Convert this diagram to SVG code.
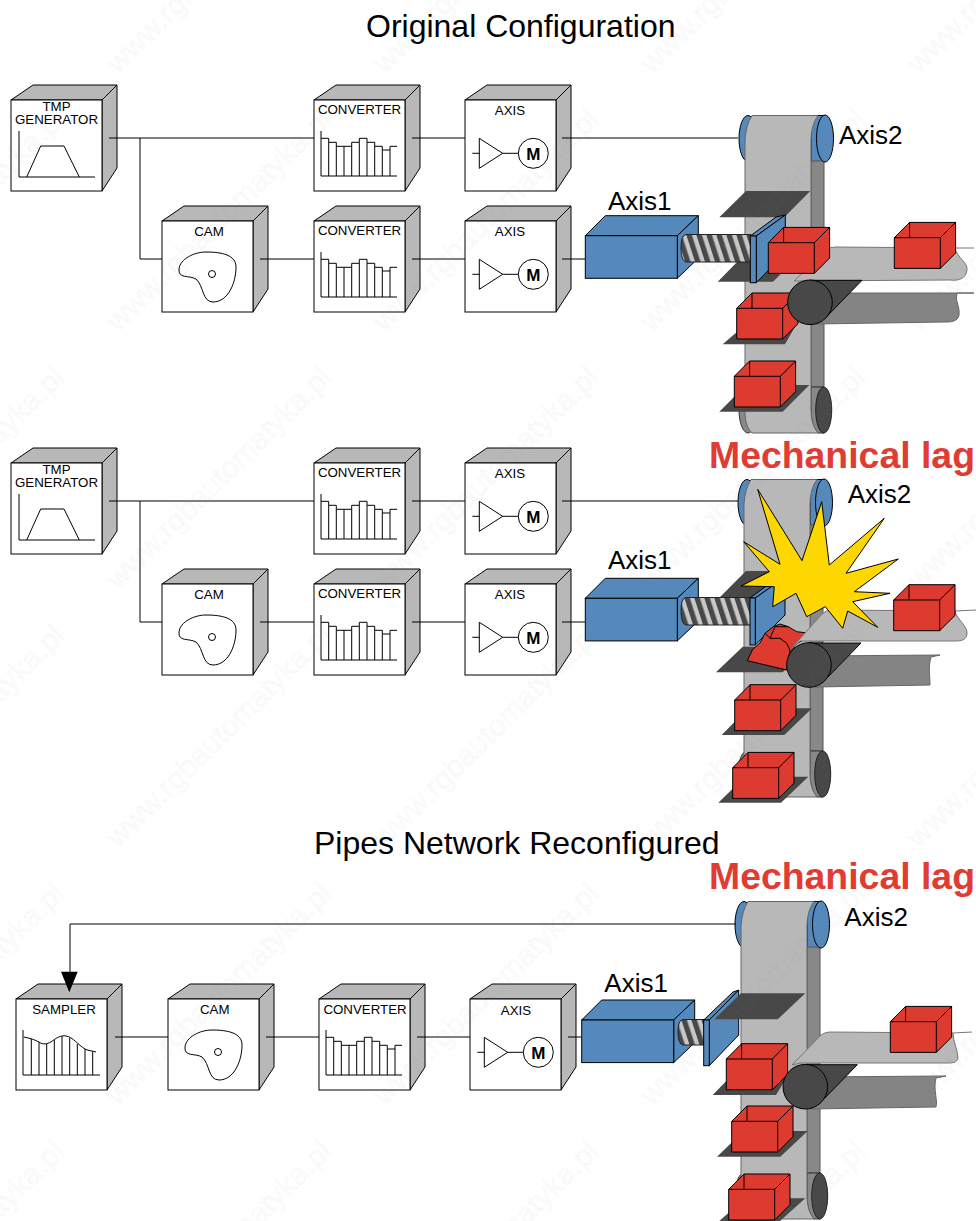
<svg xmlns="http://www.w3.org/2000/svg" width="976" height="1221" viewBox="0 0 976 1221">
<style>
text{font-family:"Liberation Sans",Arial,sans-serif;fill:#000}
.lb{font-size:13.3px;text-anchor:middle}
.ax{font-size:26px}
.ti{font-size:32px}
.lag{font-size:37.4px;font-weight:bold;fill:#e03c33}
.wm{font-size:30px;fill:#8c8c8c;fill-opacity:.04;stroke:#808080;stroke-opacity:.09;stroke-width:.6}
.m{font-size:17px;font-weight:bold;text-anchor:middle}
.ln{fill:none;stroke:#000;stroke-width:1}
.gr{fill:#b8b8b8;stroke:#000;stroke-width:1}
.wh{fill:#fff;stroke:#000;stroke-width:1}
.bl{fill:#5588bb;stroke:#000;stroke-width:1}
.tr{fill:#484848}
.sf{fill:#b8b8b8;stroke:#777;stroke-width:1}
.bd{fill:#848484;stroke:#666;stroke-width:1}
.tl{fill:none;stroke:#777;stroke-width:1}
.sc{fill:url(#thread);stroke:#222;stroke-width:1}
</style>
<defs>
<g id="box">
<polygon class="gr" points="0,0 22,-15 106,-15 91,0"/>
<polygon class="gr" points="91,0 106,-15 106,68 91,91"/>
<rect class="wh" x="0" y="0" width="91" height="91"/>
</g>
<g id="trap"><path class="ln" d="M8,31V77H84M15.7,77L29.7,46H53L68.3,77"/></g>
<g id="conv"><path class="ln" d="M7,31V76H83M7,38.3H14.7V42.3H22.3V46.3H37.7V42.3H45.3V38.3H53V42.3H60.7V46.3H68.3V50H76V46.3H83M14.7,42.3V76M22.3,46.3V76M30,46.3V76M37.7,46.3V76M45.3,42.3V76M53,42.3V76M60.7,46.3V76M68.3,50V76M76,50V76"/></g>
<g id="amp"><path class="ln" d="M7.3,53.3H14.3M14.3,38.3L37.7,53.3L14.3,68.3ZM37.7,53.3H53.3"/><circle class="wh" cx="68.3" cy="53.3" r="15"/><text class="m" x="68.3" y="59.6">M</text></g>
<g id="camsh"><path class="ln" d="M17,48C18,38 32,31 44,31C60,31 74,34 74,46C74,62 66,81 51,81C40,81 42,65 34,58C27,54 16,58 17,48Z"/><circle class="wh" cx="50" cy="53" r="3.5"/></g>
<g id="samp"><path class="ln" d="M7,31V76H84M7.7,38C14,39 19,41 23,43C27,46 31,45 35,43C40,39 45,36 50,37C57,38 62,46 69,50C73,52 77,52 80,53M15.3,40V76M23,43V76M30.7,45V76M38.3,41V76M46,37V76M53.7,39V76M61.3,45V76M69,50V76M76.7,52V76"/></g>
<g id="red">
<polygon fill="#dd3a30" stroke="#000" points="0,0 15.3,-15.3 61.3,-15.3 61.3,15.4 46,30.7 0,30.7"/>
<path class="ln" d="M15.3,-15.3V0M0,0H46V30.7M46,0L61.3,-15.3"/>
</g>
<g id="motor">
<polygon class="bl" points="0,0 20,-20 113,-20 92,0"/>
<polygon class="bl" points="92,0 113,-20 113,22.6 92,42.6"/>
<rect class="bl" x="0" y="0" width="92" height="42.6"/>
</g>
<pattern id="thread" width="10" height="28" patternUnits="userSpaceOnUse" patternTransform="skewX(18)"><rect width="10" height="28" fill="#c8c8c8"/><rect width="5.5" height="28" fill="#484848"/></pattern>
<g id="belt">
<ellipse cx="748" cy="138.5" rx="9" ry="23" class="bl"/>
<ellipse cx="748" cy="410" rx="9" ry="23" fill="#888" stroke="#333"/>
<rect x="811" y="115.5" width="14" height="46" class="bl"/>
<rect x="811" y="161" width="13" height="226" fill="#888" stroke="#555"/>
<path d="M811,387H824V433H818Q811,425 811,410Z" fill="#888" stroke="#333"/>
<path d="M745,162V140Q746,125 752,115.5H818Q811,125 811,140V410Q811,425 818,433H752Q746,428 745,415Z" fill="#b8b8b8" stroke="#666"/>
<ellipse cx="825" cy="138.5" rx="8.5" ry="23.5" class="bl"/>
<ellipse cx="823.7" cy="410" rx="8" ry="23" fill="#484848" stroke="#222"/>
</g>
<g id="roller">
<polygon points="0,-22 52,-22 16,15 0,22" fill="#484848" stroke="#000"/>
<circle r="22.3" fill="#484848" stroke="#000"/>
</g>
</defs>

<g id="axis1-motor-a"><use href="#motor" x="585.3" y="235.7"/></g>
<g id="axis1-motor-b"><use href="#motor" x="585.3" y="598.3"/></g>
<g id="axis1-motor-c"><use href="#motor" x="581.7" y="1020"/></g>

<g id="section1-conveyor">
<use href="#belt"/>
<polygon class="tr" points="719.3,217.3 746,191 810.3,191 784.3,217.3"/>
<polygon class="tr" points="717.7,281.7 744,255 800,255 773,281.7"/>
<polygon class="tr" points="722.7,344.3 745,325 796,325 785,344.3"/>
<polygon class="tr" points="719.3,411.7 746,385 809.3,385 782.7,411.7"/>
<path class="bd" d="M810,293H974L957,293C955,303 960,305 959,315C958,322 950,322 945,322L815,324Z"/>
<path class="sf" d="M794,281L826,250Q829,247 836,247L955,248C957,258 968,262 967,270C966,279 958,281 950,280Z"/>
<path class="tl" d="M955,248L974,248"/>
<path class="sc" d="M681,248Q681,235 686,234.5H751V262H686Q681,261 681,248Z"/>
<polygon class="bl" points="750.3,236 776,217 785.3,215 756.3,236"/>
<polygon class="bl" points="756.3,236 785.3,215 785.3,253 756.3,282.7"/>
<rect class="bl" x="750.3" y="236" width="6" height="46.7"/>
<use href="#red" x="768.3" y="242.7"/>
<use href="#red" x="894.3" y="237.7"/>
<use href="#red" x="736.7" y="308.3"/>
<use href="#red" x="734.3" y="376.3"/>
<use href="#roller" x="810" y="302.3"/>
</g>

<g id="section2-conveyor">
<use href="#belt" x="-1" y="364"/>
<polygon class="tr" points="719.3,597.7 746,571 810,571 784,597.7"/>
<polygon class="tr" points="716,672.3 742.7,646.7 810,646.7 782.7,672.3"/>
<polygon class="tr" points="721.7,735 748,708.3 812,708.3 784.3,735"/>
<polygon class="tr" points="718.3,802.7 745,776.7 808.3,776.7 781,802.7"/>
<path class="sc" d="M681,610.5Q681,598 686,597.5H751V625H686Q681,624 681,610.5Z"/>
<polygon class="bl" points="750,598 776,579 785,577 755.3,598"/>
<polygon class="bl" points="755.3,598 785,577 785,615 755.3,645"/>
<rect class="bl" x="750" y="598" width="5.3" height="47"/>
<path class="bd" d="M810,656L940,655L931,657C928,668 930,675 930,685L815,687Z"/>
<g id="crushed-box">
<polygon fill="#dd3a30" stroke="#000" points="747.3,660.7 752.7,649.3 760,643 765,633.3 773.3,626.7 780,624 788.3,626.7 796.7,631.7 805,632.7 806.7,638.3 798.3,642.7 790,650 786.7,670"/>
<path class="ln" d="M765,633.3L770,638.3H780L786.7,643.3L790,650M770,638.3L775,626.7M775,626.7L788.3,626.7"/>
</g>
<path class="sf" d="M790,650L822,614Q826,610 832,610L955,611C957,620 968,626 967,634C966,642 958,641 950,641L800,641Z"/>
<path class="tl" d="M955,611L976,610"/>
<use href="#red" x="734.7" y="700"/>
<use href="#red" x="732.7" y="767.7"/>
<use href="#roller" x="809" y="665"/>
<polygon id="collision-star" fill="#ffd700" stroke="#000" points="757.7,489.3 802,560.7 821.7,501.7 829.3,565 884.3,518.3 846,573.3 898.3,559 854.3,591.7 890,593.3 852.7,601.7 877.7,627.3 847.7,611 842.7,628.3 825.3,606.7 806.7,616.7 796,593.3 772.7,606.7 774.3,586.7 741,586 769.3,571.7 743.7,541.7 780,564.3"/>
<use href="#red" x="893.7" y="600"/>
</g>

<g id="section3-conveyor">
<use href="#belt" x="-4" y="786"/>
<path class="sc" d="M678,1032Q678,1020 683,1019.5H704V1045H683Q678,1044 678,1032Z"/>
<polygon class="bl" points="703.7,1020 733,992 738.7,990 709.3,1020"/>
<polygon class="bl" points="709.3,1020 738.7,990 738.7,1035 709.3,1065.7"/>
<rect class="bl" x="703.7" y="1020" width="5.6" height="45.7"/>
<polygon class="tr" points="714.3,1019.3 741,993.3 805.3,993.3 777.7,1019.3"/>
<polygon class="tr" points="712.7,1095 735,1072 790,1072 776,1095"/>
<polygon class="tr" points="717,1156.7 743.7,1131 807.7,1131 780.3,1156.7"/>
<polygon class="tr" points="719.3,1221 745,1198.3 805.3,1198.3 780,1221"/>
<path class="bd" d="M806,1077L946,1076L936,1078C933,1090 938,1100 936,1107L810,1109Z"/>
<path class="sf" d="M792,1065L821,1035Q825,1032 830,1032L953,1033C953,1042 958,1050 958,1058C957,1063 952,1063 948,1063L800,1063Z"/>
<path class="tl" d="M953,1033L972,1032"/>
<use href="#red" x="890.3" y="1021.7"/>
<use href="#red" x="726.3" y="1059"/>
<use href="#red" x="731.7" y="1121.3"/>
<use href="#red" x="728.7" y="1189.3"/>
<use href="#roller" x="805.3" y="1086.7"/>
</g>

<g id="tmp-a" transform="translate(11,100)"><use href="#box"/><text class="lb" x="45.5" y="11">TMP</text><text class="lb" x="45.5" y="24">GENERATOR</text><use href="#trap"/></g>
<g id="conv-a1" transform="translate(314,100)"><use href="#box"/><text class="lb" x="45.5" y="14">CONVERTER</text><use href="#conv"/></g>
<g id="axis-a1" transform="translate(465,100)"><use href="#box"/><text class="lb" x="45" y="15">AXIS</text><use href="#amp"/></g>
<g id="cam-a" transform="translate(162,221)"><use href="#box"/><text class="lb" x="47" y="15">CAM</text><use href="#camsh"/></g>
<g id="conv-a2" transform="translate(314,221)"><use href="#box"/><text class="lb" x="45.5" y="14">CONVERTER</text><use href="#conv"/></g>
<g id="axis-a2" transform="translate(465,221)"><use href="#box"/><text class="lb" x="45" y="15">AXIS</text><use href="#amp"/></g>

<g id="tmp-b" transform="translate(11,463)"><use href="#box"/><text class="lb" x="45.5" y="11">TMP</text><text class="lb" x="45.5" y="24">GENERATOR</text><use href="#trap"/></g>
<g id="conv-b1" transform="translate(314,463)"><use href="#box"/><text class="lb" x="45.5" y="14">CONVERTER</text><use href="#conv"/></g>
<g id="axis-b1" transform="translate(465,463)"><use href="#box"/><text class="lb" x="45" y="15">AXIS</text><use href="#amp"/></g>
<g id="cam-b" transform="translate(162,584)"><use href="#box"/><text class="lb" x="47" y="15">CAM</text><use href="#camsh"/></g>
<g id="conv-b2" transform="translate(314,584)"><use href="#box"/><text class="lb" x="45.5" y="14">CONVERTER</text><use href="#conv"/></g>
<g id="axis-b2" transform="translate(465,584)"><use href="#box"/><text class="lb" x="45" y="15">AXIS</text><use href="#amp"/></g>

<g id="sampler-c" transform="translate(16,999)"><use href="#box"/><text class="lb" x="48" y="15">SAMPLER</text><use href="#samp"/></g>
<g id="cam-c" transform="translate(168,999)"><use href="#box"/><text class="lb" x="46.7" y="15">CAM</text><use href="#camsh"/></g>
<g id="conv-c" transform="translate(319,999)"><use href="#box"/><text class="lb" x="46" y="15">CONVERTER</text><use href="#conv"/></g>
<g id="axis-c" transform="translate(470,999)"><use href="#box"/><text class="lb" x="46" y="16">AXIS</text><use href="#amp"/></g>

<g id="connectors">
<path class="ln" d="M109,138H314M140,138V259H162M260,259H314M412,138H465M412,259H465M562,138H738M562,259H585"/>
<path class="ln" d="M109,501H314M140,501V622H162M260,622H314M412,501H465M412,622H465M562,501H738M562,622H585"/>
<path class="ln" d="M736,924H70V972M115,1037H168M266,1037H319M417,1037H470M568,1037H581"/>
<polygon points="61,971.7 77.7,971.7 69.3,992.3" fill="#000"/>
</g>

<text class="ti" x="366" y="37">Original Configuration</text>
<text class="ti" x="314" y="854">Pipes Network Reconfigured</text>
<text class="ax" x="839" y="144.3">Axis2</text>
<text class="ax" x="608" y="210">Axis1</text>
<text class="ax" x="847.7" y="503">Axis2</text>
<text class="ax" x="608" y="569.3">Axis1</text>
<text class="ax" x="844.3" y="926">Axis2</text>
<text class="ax" x="604.3" y="991.7">Axis1</text>
<text class="lag" x="709" y="468">Mechanical lag</text>
<text class="lag" x="709" y="888.5">Mechanical lag</text>

<g id="watermark">
<text class="wm" transform="translate(118,75) rotate(-44.5)">www.rgbautomatyka.pl</text>
<text class="wm" transform="translate(385,75) rotate(-44.5)">www.rgbautomatyka.pl</text>
<text class="wm" transform="translate(652,75) rotate(-44.5)">www.rgbautomatyka.pl</text>
<text class="wm" transform="translate(919,75) rotate(-44.5)">www.rgbautomatyka.pl</text>
<text class="wm" transform="translate(-149,333) rotate(-44.5)">www.rgbautomatyka.pl</text>
<text class="wm" transform="translate(118,333) rotate(-44.5)">www.rgbautomatyka.pl</text>
<text class="wm" transform="translate(385,333) rotate(-44.5)">www.rgbautomatyka.pl</text>
<text class="wm" transform="translate(652,333) rotate(-44.5)">www.rgbautomatyka.pl</text>
<text class="wm" transform="translate(919,333) rotate(-44.5)">www.rgbautomatyka.pl</text>
<text class="wm" transform="translate(-149,591) rotate(-44.5)">www.rgbautomatyka.pl</text>
<text class="wm" transform="translate(118,591) rotate(-44.5)">www.rgbautomatyka.pl</text>
<text class="wm" transform="translate(385,591) rotate(-44.5)">www.rgbautomatyka.pl</text>
<text class="wm" transform="translate(652,591) rotate(-44.5)">www.rgbautomatyka.pl</text>
<text class="wm" transform="translate(919,591) rotate(-44.5)">www.rgbautomatyka.pl</text>
<text class="wm" transform="translate(-149,849) rotate(-44.5)">www.rgbautomatyka.pl</text>
<text class="wm" transform="translate(118,849) rotate(-44.5)">www.rgbautomatyka.pl</text>
<text class="wm" transform="translate(385,849) rotate(-44.5)">www.rgbautomatyka.pl</text>
<text class="wm" transform="translate(652,849) rotate(-44.5)">www.rgbautomatyka.pl</text>
<text class="wm" transform="translate(919,849) rotate(-44.5)">www.rgbautomatyka.pl</text>
<text class="wm" transform="translate(-149,1107) rotate(-44.5)">www.rgbautomatyka.pl</text>
<text class="wm" transform="translate(118,1107) rotate(-44.5)">www.rgbautomatyka.pl</text>
<text class="wm" transform="translate(385,1107) rotate(-44.5)">www.rgbautomatyka.pl</text>
<text class="wm" transform="translate(652,1107) rotate(-44.5)">www.rgbautomatyka.pl</text>
<text class="wm" transform="translate(919,1107) rotate(-44.5)">www.rgbautomatyka.pl</text>
<text class="wm" transform="translate(-149,1365) rotate(-44.5)">www.rgbautomatyka.pl</text>
<text class="wm" transform="translate(118,1365) rotate(-44.5)">www.rgbautomatyka.pl</text>
<text class="wm" transform="translate(385,1365) rotate(-44.5)">www.rgbautomatyka.pl</text>
<text class="wm" transform="translate(652,1365) rotate(-44.5)">www.rgbautomatyka.pl</text>
<text class="wm" transform="translate(919,1365) rotate(-44.5)">www.rgbautomatyka.pl</text>
</g>
</svg>
